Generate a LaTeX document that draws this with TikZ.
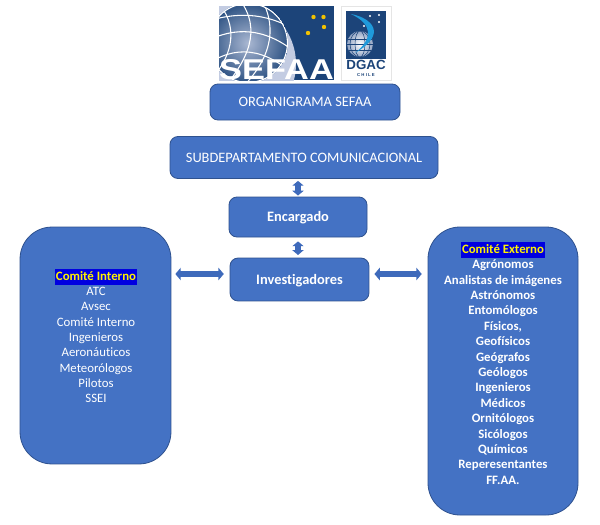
\documentclass[tikz,border=0pt]{standalone}
\usepackage{fontspec}
\usepackage{xcolor}
\setmainfont{Carlito}[Ligatures=NoCommon]
\newfontfamily\logofont{Liberation Sans}
\usetikzlibrary{arrows.meta,calc}
\definecolor{boxblue}{HTML}{4472C4}
\definecolor{boxedge}{HTML}{2F528F}
\definecolor{linkblue}{HTML}{3E6ABB}
\definecolor{logoblue}{HTML}{1C4479}
\definecolor{logopale}{HTML}{C3CCE2}
\definecolor{hlblue}{HTML}{0000E0}
\definecolor{swoosh}{HTML}{1F9ADB}
\definecolor{starcol}{HTML}{F2C200}
\newcommand{\hltitle}[1]{\smash{\setlength{\fboxsep}{0.6pt}\colorbox{hlblue}{\rule[-2.9pt]{0pt}{11pt}\textcolor{yellow}{\bfseries #1}}}}
\tikzset{
  orgbox/.style={draw=boxedge,line width=0.6pt,fill=boxblue,rounded corners=6pt,text=white,inner sep=0pt,text height=8.4pt,text depth=1pt},
  bigbox/.style={draw=boxedge,line width=0.6pt,fill=boxblue,rounded corners=24pt,inner sep=0pt},
  listtext/.style={text=white,align=center,inner sep=0pt},
  linkv/.style={draw=linkblue,line width=4.2pt,{Triangle[width=8.4pt,length=3.6pt]}-{Triangle[width=8.4pt,length=3.6pt]}},
  linkh/.style={draw=linkblue,line width=4.2pt,{Triangle[width=9.2pt,length=4pt]}-{Triangle[width=9.2pt,length=4pt]}},
}
\begin{document}
\begin{tikzpicture}[x=0.75pt,y=-0.75pt]
\useasboundingbox (0,0) rectangle (600,525);
\fill[white] (0,0) rectangle (600,525);
% SEFAA logo
\begin{scope}
\clip (219,6) rectangle (334,80);
\fill[logoblue] (219,6) rectangle (334,80);
\fill[logopale] (233,64) circle (63);
\shade[inner color=logopale!85!logoblue,outer color=logoblue!92!white] (248,43) circle (40);
\begin{scope}
\clip (248,43) circle (40);
\draw[white,line width=0.9pt] (248,43) circle (39.5);
\draw[white,line width=0.8pt] (262,0) .. controls (278,30) and (270,60) .. (240,90);
\draw[white,line width=0.8pt] (240,0) .. controls (262,30) and (248,60) .. (222,90);
\draw[white,line width=0.8pt] (220,5) .. controls (240,30) and (230,60) .. (210,80);
\draw[white,line width=0.8pt] (205,22) .. controls (235,12) and (265,12) .. (295,30);
\draw[white,line width=0.8pt] (205,42) .. controls (235,26) and (265,28) .. (295,52);
\draw[white,line width=0.8pt] (205,66) .. controls (235,44) and (265,48) .. (295,76);
\end{scope}
\end{scope}
\foreach \p in {(313.5,17),(323.5,17),(324,27),(308,33)}{\fill[starcol] \p circle (2.2);}
\node[font=\logofont\bfseries\fontsize{21.5pt}{22pt}\selectfont,text=white,inner sep=0pt,xscale=1.2] (sefaa) at (276.5,70) {SEFAA};
% DGAC logo
\fill[white,draw=black!10] (341,6) rectangle (391,80);
\fill[logoblue] (346,11) rectangle (386,59);
\shade[inner color=white,outer color=logopale!70!logoblue] (360,44) circle (13);
\begin{scope}
\clip (360,44) circle (13);
\draw[logoblue,line width=0.4pt] (360,44) ellipse (5 and 13) (360,44) ellipse (10 and 13);
\draw[logoblue,line width=0.4pt] (345,39) -- (375,39) (345,44) -- (375,44) (345,50) -- (375,50);
\end{scope}
\fill[swoosh] (351,14) .. controls (372,18) and (388,34) .. (355,53) .. controls (374,38) and (372,24) .. (351,14) -- cycle;
\foreach \p in {(370,16),(379,15),(379,22),(364,26)}{\fill[white] \p circle (1.1);}
\node[font=\logofont\bfseries\fontsize{10pt}{10pt}\selectfont,text=logoblue,inner sep=0pt] (dgac) at (366,64.8) {DGAC};
\node[font=\logofont\bfseries\fontsize{3.2pt}{4pt}\selectfont,text=logoblue,inner sep=0pt] (chile) at (366,75.2) {C H I L E};
% boxes
\node[orgbox,minimum width=142.5pt,minimum height=27pt,font=\fontsize{10.8pt}{12pt}\selectfont] (org) at (305,102) {ORGANIGRAMA SEFAA};
\node[orgbox,minimum width=201pt,minimum height=31.5pt,font=\fontsize{10.8pt}{12pt}\selectfont] (sub) at (304,157.5) {SUBDEPARTAMENTO COMUNICACIONAL};
\node[orgbox,minimum width=103.5pt,minimum height=30pt,font=\bfseries\fontsize{10.8pt}{12pt}\selectfont] (enc) at (298,217) {Encargado};
\node[orgbox,minimum width=104.2pt,minimum height=32.2pt,font=\bfseries\fontsize{10.8pt}{12pt}\selectfont] (inv) at (299.5,279.5) {Investigadores};
\node[bigbox,minimum width=113.2pt,minimum height=177.7pt] (left) at (95.5,345.5) {};
\node[bigbox,minimum width=112.5pt,minimum height=216pt] (right) at (503,371) {};
\node[listtext,anchor=north,font=\fontsize{9.6pt}{11.5pt}\selectfont] (lefttext) at (96,280) {\hltitle{Comité Interno}\\ATC\\Avsec\\Comité Interno\\Ingenieros\\Aeronáuticos\\Meteorólogos\\Pilotos\\SSEI};
\node[listtext,anchor=north,font=\bfseries\fontsize{9.6pt}{11.55pt}\selectfont] (righttext) at (503,253) {\hltitle{Comité Externo}\\Agrónomos\\Analistas de imágenes\\Astrónomos\\Entomólogos\\Físicos,\\Geofísicos\\Geógrafos\\Geólogos\\Ingenieros\\Médicos\\Ornitólogos\\Sicólogos\\Químicos\\Reperesentantes\\FF.AA.};
% connectors
\draw[linkv,shorten <=0.8pt,shorten >=1.5pt] (enc.north) -- (enc.north |- sub.south);
\draw[linkv,shorten <=3pt,shorten >=2pt] (enc.south) -- (enc.south |- inv.north);
\draw[linkh,shorten <=4.4pt,shorten >=3pt] (inv.west |- 0,274) -- (left.east |- 0,274);
\draw[linkh,shorten <=3.8pt,shorten >=4.4pt] (inv.east |- 0,274) -- (right.west |- 0,274);
\end{tikzpicture}
\end{document}
